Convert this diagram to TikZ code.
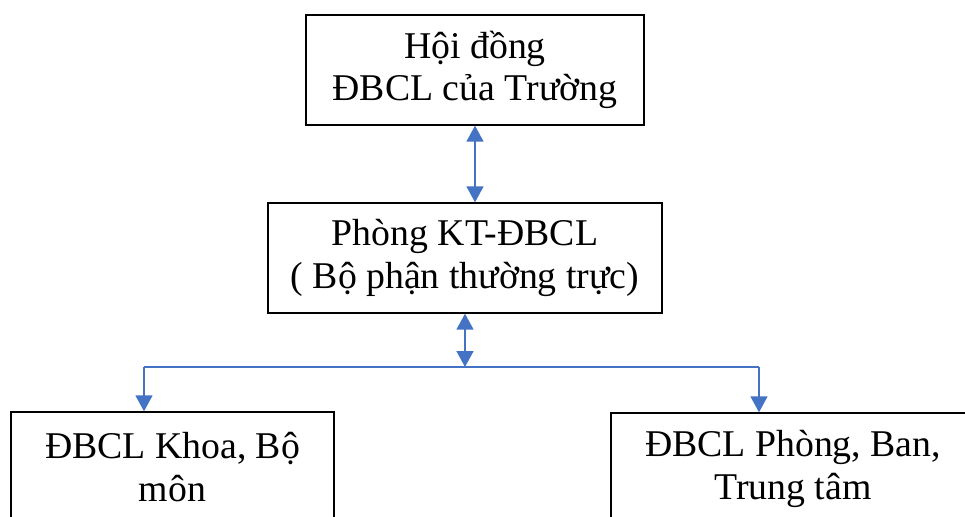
\documentclass[tikz,border=0pt]{standalone}
\usepackage{fontspec}
\setmainfont{Liberation Serif}
\usepackage{tikz}
\usetikzlibrary{
    arrows.meta,
    calc
}
\definecolor{linkblue}{RGB}{68,114,196}

\tikzset{
    unitbox/.style={draw, line width=0.8pt, align=center, inner sep=0pt,
        font=\fontsize{21.5}{24}\selectfont},
    link/.style={draw=linkblue, line width=1.1pt},
    arrowlink/.style={link, -{Triangle[length=9pt,width=9.5pt]}},
    bothlink/.style={link, {Triangle[length=9pt,width=9.5pt]}-{Triangle[length=9pt,width=9.5pt]}}
}

\begin{document}
\begin{tikzpicture}[x=0.02cm, y=-0.02cm]

\useasboundingbox (0,0) rectangle (965,517);
\clip (0,0) rectangle (965,517);

% Boxes
\node[unitbox, minimum width=6.76cm, minimum height=2.2cm] (council) at (475,70)
    {Hội đồng\\ĐBCL của Trường};
\node[unitbox, minimum width=7.88cm, minimum height=2.2cm] (office) at (465,258)
    {Phòng KT-ĐBCL\\( Bộ phận thường trực)};
\node[unitbox, minimum width=6.46cm, minimum height=2.2cm] (faculty) at (172.5,467)
    {ĐBCL Khoa, Bộ\\môn};
\node[unitbox, minimum width=7.28cm, minimum height=2.24cm] (unit) at (793,469)
    {ĐBCL Phòng, Ban,\\Trung tâm};

% Council <-> office
\draw[bothlink] (council.south) -- (council.south |- office.north);

% Branch line
\coordinate (hub) at (465,367);
\coordinate (lft) at (144,367);
\coordinate (rgt) at (759,367);
\draw[link] (lft) -- (rgt);
\draw[bothlink] (office.south) -- (hub);

% Down to the units
\draw[arrowlink] (lft) -- (lft |- faculty.north);
\draw[arrowlink] (rgt) -- (rgt |- unit.north);

\end{tikzpicture}
\end{document}
